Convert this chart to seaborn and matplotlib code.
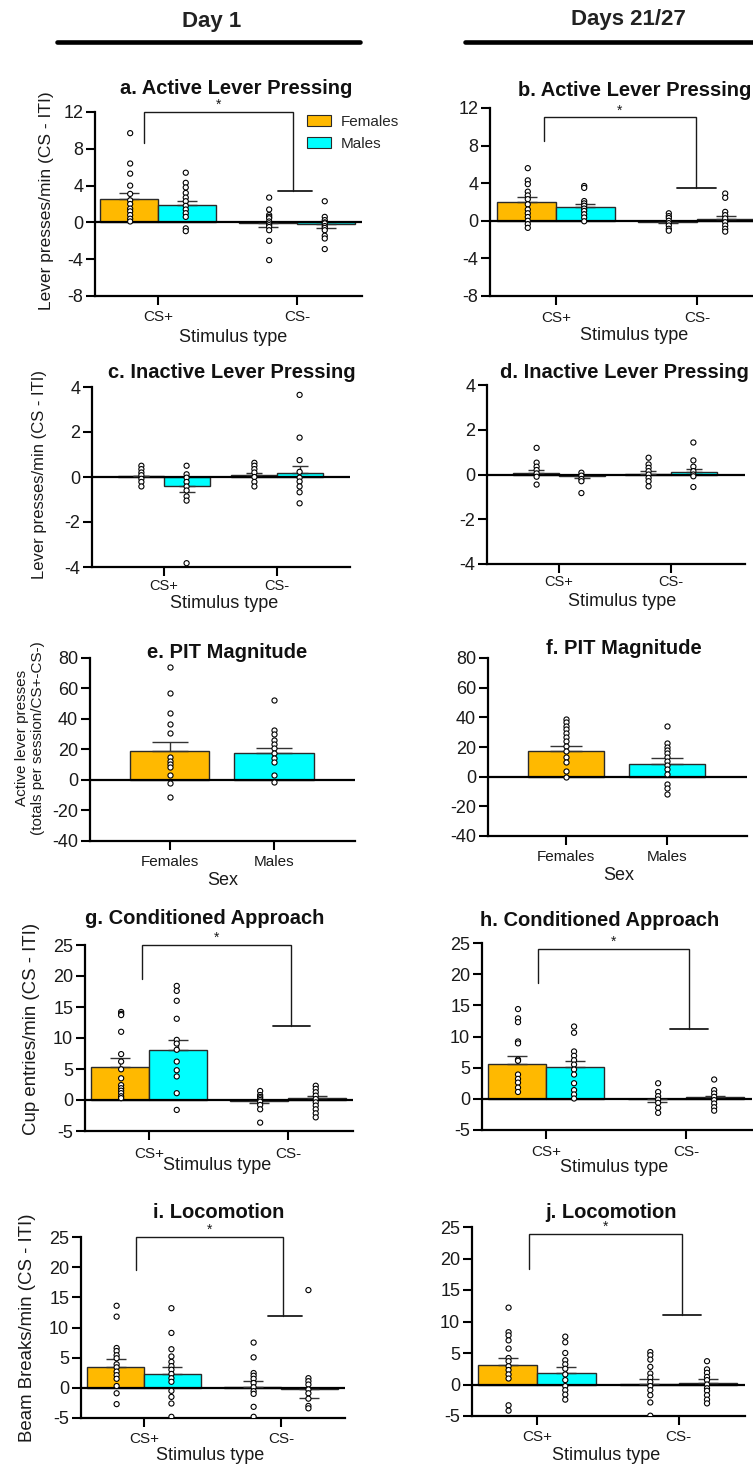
import matplotlib
matplotlib.use("Agg")
import matplotlib.pyplot as plt
import numpy as np
import pandas as pd
import seaborn as sns
from matplotlib.lines import Line2D
from matplotlib.patches import Patch

# ---------------- data ----------------
STIM = ["CS+", "CS-"]
SEX = ["Females", "Males"]

# a. Active lever pressing, Day 1
A_F_CSP = [9.7, 6.4, 5.3, 4.0, 3.1, 2.4, 2.0, 1.5, 1.2, 0.8, 0.4, 0.1]
A_M_CSP = [5.4, 4.3, 3.8, 3.2, 2.7, 2.3, 1.8, 1.4, 1.0, 0.6, -0.65, -0.95]
A_F_CSM = [2.7, 1.4, 0.8, 0.6, 0.45, 0.1, -0.1, -0.3, -0.5, -0.85, -2.0, -4.1]
A_M_CSM = [2.3, 0.6, 0.25, 0.0, -0.1, -0.4, -0.6, -0.85, -1.45, -1.75, -2.9]
A_MEAN_F = [2.5, -0.1]
A_MEAN_M = [1.9, -0.22]
A_SEM_F = [0.74, 0.37]
A_SEM_M = [0.46, 0.38]

# b. Active lever pressing, Days 21/27
B_F_CSP = [5.6, 4.3, 3.9, 3.1, 2.7, 2.3, 1.75, 1.2, 0.8, 0.4, 0.0, -0.35, -0.75]
B_M_CSP = [3.7, 3.5, 2.1, 1.85, 1.6, 1.3, 1.05, 0.7, 0.35, -0.05]
B_F_CSM = [0.8, 0.5, 0.3, 0.0, -0.25, -0.5, -0.85, -1.05]
B_M_CSM = [2.9, 2.45, 0.95, 0.6, 0.25, -0.15, -0.5, -0.85, -1.15]
B_MEAN_F = [1.98, -0.08]
B_MEAN_M = [1.46, 0.15]
B_SEM_F = [0.52, 0.12]
B_SEM_M = [0.34, 0.37]

# c. Inactive lever pressing, Day 1
C_F_CSP = [0.5, 0.35, 0.2, 0.08, -0.08, -0.22, -0.42]
C_M_CSP = [0.5, 0.12, -0.03, -0.22, -0.42, -0.6, -0.86, -1.05, -3.83]
C_F_CSM = [0.63, 0.5, 0.35, 0.2, 0.0, -0.22, -0.42]
C_M_CSM = [3.65, 1.75, 0.75, 0.23, -0.03, -0.2, -0.42, -0.68, -1.17]
C_MEAN_F = [0.03, 0.08]
C_MEAN_M = [-0.42, 0.2]
C_SEM_F = [0.03, 0.1]
C_SEM_M = [0.26, 0.31]

# d. Inactive lever pressing, Days 21/27
D_F_CSP = [1.19, 0.53, 0.35, 0.2, 0.05, -0.1, -0.45]
D_M_CSP = [0.08, -0.05, -0.2, -0.3, -0.83]
D_F_CSM = [0.75, 0.45, 0.3, 0.15, 0.0, -0.15, -0.3, -0.53]
D_M_CSM = [1.43, 0.63, 0.35, 0.15, 0.0, -0.08, -0.56]
D_MEAN_F = [0.08, 0.04]
D_MEAN_M = [-0.08, 0.09]
D_SEM_F = [0.12, 0.11]
D_SEM_M = [0.07, 0.14]

# e. PIT magnitude, Day 1
E_F = [74, 57, 44, 37, 31, 14.8, 12.6, 10.4, 8.7, 3.3, -1.7, -10.9]
E_M = [52.2, 32.6, 30.4, 26.5, 23.3, 20.7, 17.8, 14.1, 12.0, 3.3, -1.1]
E_MEAN = [19.1, 17.4]
E_SEM = [6.1, 3.7]

# f. PIT magnitude, Days 21/27
F_F = [38.7, 36.6, 34.4, 32.1, 29.2, 26.5, 24.3, 20.9, 17.1, 13.0, 9.7, 4.0, -0.4]
F_M = [34.2, 22.5, 20.2, 18.0, 15.7, 13.0, 10.8, 8.1, 5.2, 1.8, -4.9, -7.6, -11.7]
F_MEAN = [17.5, 8.5]
F_SEM = [3.4, 4.1]

# g. Conditioned approach, Day 1
G_F_CSP = [14.2, 13.9, 13.7, 11.0, 7.4, 6.2, 4.95, 3.5, 2.4, 1.9, 1.5, 1.1, 0.6, 0.3]
G_M_CSP = [18.4, 17.6, 16.0, 13.1, 9.7, 9.1, 8.1, 6.2, 4.8, 3.8, 1.1, -1.6]
G_F_CSM = [1.45, 0.8, 0.5, 0.27, 0.0, -0.27, -0.8, -1.5, -3.65]
G_M_CSM = [2.3, 1.8, 1.25, 0.7, 0.16, -0.38, -0.9, -1.5, -2.15, -2.8]
G_MEAN_F = [5.4, -0.15]
G_MEAN_M = [8.06, 0.27]
G_SEM_F = [1.3, 0.28]
G_SEM_M = [1.54, 0.43]

# h. Conditioned approach, Days 21/27
H_F_CSP = [14.4, 12.9, 12.3, 9.2, 8.9, 6.3, 6.1, 3.9, 3.2, 2.6, 1.8, 1.1]
H_M_CSP = [11.6, 10.6, 7.6, 6.9, 6.2, 5.5, 4.7, 3.9, 2.5, 1.4, 0.7, 0.05]
H_F_CSM = [2.5, 1.1, 0.43, -0.1, -0.65, -1.45, -2.25]
H_M_CSM = [3.1, 1.4, 0.86, 0.32, -0.2, -0.75, -1.35, -1.9]
H_MEAN_F = [5.65, -0.1]
H_MEAN_M = [5.16, 0.27]
H_SEM_F = [1.25, 0.38]
H_SEM_M = [0.94, 0.16]

# i. Locomotion, Day 1
I_F_CSP = [13.6, 11.8, 6.6, 6.1, 5.4, 4.9, 3.9, 3.4, 2.7, 2.1, 1.5, 0.3, -0.9, -2.7]
I_M_CSP = [13.2, 9.1, 6.4, 5.2, 4.3, 3.6, 3.0, 2.3, 1.6, 1.0, -0.5, -1.5, -2.6, -4.8]
I_F_CSM = [7.5, 5.05, 2.45, 2.0, 1.5, 0.8, 0.1, -0.55, -1.0, -3.15, -4.8]
I_M_CSM = [16.2, 1.6, 1.1, 0.55, -0.27, -0.9, -1.8, -3.0, -3.4]
I_MEAN_F = [3.4, 0.1]
I_MEAN_M = [2.34, -0.2]
I_SEM_F = [1.4, 1.0]
I_SEM_M = [1.16, 1.55]

# j. Locomotion, Days 21/27
J_F_CSP = [12.2, 8.3, 7.8, 7.0, 5.7, 4.2, 3.7, 2.9, 2.3, 1.6, 0.95, -3.3, -4.15]
J_M_CSP = [7.6, 6.7, 5.0, 3.85, 3.2, 2.5, 1.6, 0.7, -0.25, -0.9, -1.6, -2.4]
J_F_CSM = [5.15, 4.65, 3.95, 2.8, 1.75, 1.1, 0.4, -0.25, -0.9, -1.7, -2.85, -4.95]
J_M_CSM = [3.7, 2.4, 1.85, 1.2, 0.7, 0.0, -0.6, -1.0, -1.7, -2.4, -3.0]
J_MEAN_F = [3.05, 0.15]
J_MEAN_M = [1.9, 0.3]
J_SEM_F = [1.15, 0.7]
J_SEM_M = [0.8, 0.5]

LEVER_TICKS = [-8, -4, 0, 4, 8, 12]
INACTIVE_TICKS = [-4, -2, 0, 2, 4]
PIT_TICKS = [-40, -20, 0, 20, 40, 60, 80]
RATE_TICKS = [-5, 0, 5, 10, 15, 20, 25]

# ---------------- style ----------------
ORANGE = "#FFB900"
CYAN = "#00FFFF"
EDGE = "#2a2a2a"
PAL = {"Females": ORANGE, "Males": CYAN}
WHITE = {"Females": "white", "Males": "white"}

sns.set_theme(style="ticks")
plt.rcParams["font.family"] = ["Liberation Sans", "DejaVu Sans"]
plt.rcParams["axes.linewidth"] = 1.5

W, H, DPI = 753, 1465, 100
fig = plt.figure(figsize=(W / DPI, H / DPI), dpi=DPI)
fig.patch.set_facecolor("white")

TICK_LEN = 6.5
TICK_PX = TICK_LEN * DPI / 72


def fx(x):
    return x / W


def fy(y):
    return 1 - y / H


def make_axes(box):
    l, t, r, b = box
    return fig.add_axes([fx(l), fy(b), (r - l) / W, (b - t) / H])


def style_axes(ax, box, xlim, ylim, yticks, title, ylab, xlab, xtick_cy, xtick_fs):
    l, t, r, b = box
    ax.set_xlim(*xlim)
    ax.set_ylim(*ylim)
    ax.set_yticks(yticks)
    ax.set_yticklabels([str(v) for v in yticks])
    for s in ["top", "right"]:
        ax.spines[s].set_visible(False)
    for s in ["left", "bottom"]:
        ax.spines[s].set_linewidth(1.6)
        ax.spines[s].set_color("black")
    fs_px = xtick_fs * DPI / 72
    pad_px = max(0.0, xtick_cy - b - TICK_PX - 0.55 * fs_px)
    ax.tick_params(axis="both", direction="out", length=TICK_LEN, width=1.5, color="black")
    ax.tick_params(axis="y", labelsize=13, pad=2, labelcolor="#1a1a1a")
    ax.tick_params(axis="x", labelsize=xtick_fs, pad=pad_px * 72 / DPI, labelcolor="#1a1a1a")
    ax.axhline(0, color="black", lw=1.6, zorder=2.5)
    # title
    ttext, tx, ty = title
    fig.text(fx(tx), fy(ty), ttext, ha="center", va="center", fontsize=14.5,
             fontweight="bold", color="#111111")
    # axis labels
    if ylab is not None:
        ytext, yx, yy, yfs = ylab
        ax.set_ylabel(ytext, fontsize=yfs, va="center", ha="center", color="#1a1a1a",
                      linespacing=1.1)
        ax.yaxis.set_label_coords(fx(yx), fy(yy), transform=fig.transFigure)
    else:
        ax.set_ylabel("")
    xtext, xx, xy = xlab
    ax.set_xlabel(xtext, fontsize=13, va="center", ha="center", color="#1a1a1a")
    ax.xaxis.set_label_coords(fx(xx), fy(xy), transform=fig.transFigure)


def draw_bracket(ax, spec):
    x1, x2, ytop, yl, yr, h1, h2 = spec
    ax.plot([x1, x1, x2, x2], [yl, ytop, ytop, yr], color="#1a1a1a", lw=1.0,
            clip_on=False, zorder=5, solid_joinstyle="miter")
    ax.plot([h1, h2], [yr, yr], color="#1a1a1a", lw=1.3, clip_on=False, zorder=5)
    ax.text((x1 + x2) / 2, ytop, "*", ha="center", va="bottom", fontsize=10,
            color="#1a1a1a", clip_on=False)


def grouped_panel(ax, f_pts, m_pts, f_mean, m_mean, f_sem, m_sem, width=0.83, capsize=7):
    rows = []
    for stim, pts in zip(STIM, f_pts):
        rows += [(stim, "Females", v) for v in pts]
    for stim, pts in zip(STIM, m_pts):
        rows += [(stim, "Males", v) for v in pts]
    pts_df = pd.DataFrame(rows, columns=["stim", "sex", "value"])
    mean_df = pd.DataFrame({"stim": STIM + STIM,
                            "sex": ["Females"] * 2 + ["Males"] * 2,
                            "mean": f_mean + m_mean,
                            "sem": f_sem + m_sem})
    sns.barplot(data=mean_df, x="stim", y="mean", hue="sex", order=STIM, hue_order=SEX,
                palette=PAL, saturation=1, width=width, errorbar=None, edgecolor=EDGE,
                linewidth=1.0, legend=False, ax=ax, zorder=2)
    for j, sex in enumerate(SEX):
        sub = mean_df[mean_df["sex"] == sex]
        off = (-1 if j == 0 else 1) * width / 4
        for i, (mu, se) in enumerate(zip(sub["mean"], sub["sem"])):
            yerr = [[0], [se]] if mu >= 0 else [[se], [0]]
            ax.errorbar([i + off], [mu], yerr=yerr, fmt="none", ecolor="#333333",
                        elinewidth=1.0, capsize=capsize, capthick=1.0, zorder=3)
    sns.stripplot(data=pts_df, x="stim", y="value", hue="sex", order=STIM, hue_order=SEX,
                  palette=WHITE, dodge=True, jitter=False, size=3.7, edgecolor="black",
                  linewidth=0.8, legend=False, ax=ax, zorder=4)


def sex_panel(ax, f_pts, m_pts, means, sems, width=0.76, capsize=12):
    pts_df = pd.DataFrame({"sex": ["Females"] * len(f_pts) + ["Males"] * len(m_pts),
                           "value": f_pts + m_pts})
    mean_df = pd.DataFrame({"sex": SEX, "mean": means, "sem": sems})
    sns.barplot(data=mean_df, x="sex", y="mean", hue="sex", order=SEX, hue_order=SEX,
                palette=PAL, saturation=1, width=width, errorbar=None, edgecolor=EDGE,
                linewidth=1.0, legend=False, ax=ax, zorder=2)
    for i, (mu, se) in enumerate(zip(mean_df["mean"], mean_df["sem"])):
        yerr = [[0], [se]] if mu >= 0 else [[se], [0]]
        ax.errorbar([i], [mu], yerr=yerr, fmt="none", ecolor="#333333",
                    elinewidth=1.0, capsize=capsize, capthick=1.0, zorder=3)
    sns.stripplot(data=pts_df, x="sex", y="value", order=SEX, color="white",
                  jitter=False, size=3.7, edgecolor="black", linewidth=0.8,
                  ax=ax, zorder=4)


LEVER_LABEL = "Lever presses/min (CS - ITI)"

# ---- a ----
box = (95, 112, 362, 296)
ax = make_axes(box)
grouped_panel(ax, [A_F_CSP, A_F_CSM], [A_M_CSP, A_M_CSM], A_MEAN_F, A_MEAN_M, A_SEM_F, A_SEM_M)
style_axes(ax, box, (-0.453, 1.468), (-8, 12), LEVER_TICKS, ("a. Active Lever Pressing", 236, 88),
           (LEVER_LABEL, 47, 201, 12.5), ("Stimulus type", 233, 337), 318, 11)
draw_bracket(ax, (-0.10, 0.973, 12, 8.6, 3.4, 0.866, 1.106))
ax.legend(handles=[Patch(facecolor=ORANGE, edgecolor=EDGE, lw=0.8, label="Females"),
                   Patch(facecolor=CYAN, edgecolor=EDGE, lw=0.8, label="Males")],
          loc="upper left", bbox_to_anchor=(fx(307), fy(115)), bbox_transform=fig.transFigure,
          frameon=False, fontsize=11, handlelength=1.6, handleheight=0.7, handletextpad=0.6,
          labelspacing=0.5, borderpad=0, borderaxespad=0)

# ---- b ----
box = (490, 108, 763, 296)
ax = make_axes(box)
grouped_panel(ax, [B_F_CSP, B_F_CSM], [B_M_CSP, B_M_CSM], B_MEAN_F, B_MEAN_M, B_SEM_F, B_SEM_M)
style_axes(ax, box, (-0.468, 1.468), (-8, 12), LEVER_TICKS, ("b. Active Lever Pressing", 635, 90),
           None, ("Stimulus type", 634, 335), 319, 11)
draw_bracket(ax, (-0.085, 0.993, 11.0, 8.5, 3.5, 0.858, 1.135))

# ---- c ----
box = (92, 387, 350, 567)
ax = make_axes(box)
grouped_panel(ax, [C_F_CSP, C_F_CSM], [C_M_CSP, C_M_CSM], C_MEAN_F, C_MEAN_M, C_SEM_F, C_SEM_M,
              width=0.82, capsize=6)
style_axes(ax, box, (-0.637, 1.646), (-4, 4), INACTIVE_TICKS, ("c. Inactive Lever Pressing", 232, 373),
           (LEVER_LABEL, 40, 475, 12), ("Stimulus type", 224, 603), 587, 10.5)

# ---- d ----
box = (487, 385, 745, 564)
ax = make_axes(box)
grouped_panel(ax, [D_F_CSP, D_F_CSM], [D_M_CSP, D_M_CSM], D_MEAN_F, D_MEAN_M, D_SEM_F, D_SEM_M,
              width=0.82, capsize=6)
style_axes(ax, box, (-0.643, 1.661), (-4, 4), INACTIVE_TICKS, ("d. Inactive Lever Pressing", 624, 373),
           None, ("Stimulus type", 622, 602), 583, 10.5)

# ---- e ----
box = (90, 658, 355, 841)
ax = make_axes(box)
sex_panel(ax, E_F, E_M, E_MEAN, E_SEM, width=0.76, capsize=13)
style_axes(ax, box, (-0.769, 1.779), (-40, 80), PIT_TICKS, ("e. PIT Magnitude", 227, 652),
           ("Active lever presses\n(totals per session/CS+-CS-)", 30, 738, 11),
           ("Sex", 223, 880), 863, 11)

# ---- f ----
box = (488, 658, 747, 836)
ax = make_axes(box)
sex_panel(ax, F_F, F_M, F_MEAN, F_SEM, width=0.75, capsize=11.5)
style_axes(ax, box, (-0.772, 1.792), (-40, 80), PIT_TICKS, ("f. PIT Magnitude", 624, 648),
           None, ("Sex", 619, 875), 858, 11)

# ---- g ----
box = (85, 945, 353, 1131)
ax = make_axes(box)
grouped_panel(ax, [G_F_CSP, G_F_CSM], [G_M_CSP, G_M_CSM], G_MEAN_F, G_MEAN_M, G_SEM_F, G_SEM_M)
style_axes(ax, box, (-0.46, 1.468), (-5, 25), RATE_TICKS, ("g. Conditioned Approach", 205, 918),
           ("Cup entries/min (CS - ITI)", 32, 1029, 13.4), ("Stimulus type", 217, 1166), 1155, 11)
draw_bracket(ax, (-0.05, 1.02, 25, 19.5, 12, 0.892, 1.158))

# ---- h ----
box = (482, 943, 752, 1130)
ax = make_axes(box)
grouped_panel(ax, [H_F_CSP, H_F_CSM], [H_M_CSP, H_M_CSM], H_MEAN_F, H_MEAN_M, H_SEM_F, H_SEM_M)
style_axes(ax, box, (-0.457, 1.47), (-5, 25), RATE_TICKS, ("h. Conditioned Approach", 600, 920),
           None, ("Stimulus type", 614, 1168), 1153, 11)
draw_bracket(ax, (-0.057, 1.021, 24, 18.6, 11.2, 0.886, 1.157))

# ---- i ----
box = (81, 1237, 345, 1418)
ax = make_axes(box)
grouped_panel(ax, [I_F_CSP, I_F_CSM], [I_M_CSP, I_M_CSM], I_MEAN_F, I_MEAN_M, I_SEM_F, I_SEM_M)
style_axes(ax, box, (-0.46, 1.467), (-5, 25), RATE_TICKS, ("i. Locomotion", 219, 1212),
           ("Beam Breaks/min (CS - ITI)", 28, 1328, 13.4), ("Stimulus type", 210, 1456), 1440, 11)
draw_bracket(ax, (-0.058, 1.015, 25, 19.5, 11.9, 0.905, 1.153))

# ---- j ----
box = (472, 1227, 745, 1416)
ax = make_axes(box)
grouped_panel(ax, [J_F_CSP, J_F_CSM], [J_M_CSP, J_M_CSM], J_MEAN_F, J_MEAN_M, J_SEM_F, J_SEM_M)
style_axes(ax, box, (-0.458, 1.468), (-5, 25), RATE_TICKS, ("j. Locomotion", 611, 1212),
           None, ("Stimulus type", 606, 1455), 1438, 11)
draw_bracket(ax, (-0.056, 1.021, 23.9, 18.3, 11.0, 0.887, 1.155))

# ---- column headers ----
fig.text(fx(212), fy(21), "Day 1", ha="center", va="center", fontsize=16,
         fontweight="bold", color="#222222")
fig.text(fx(628), fy(19), "Days 21/27", ha="center", va="center", fontsize=16,
         fontweight="bold", color="#222222")
fig.add_artist(Line2D([fx(57), fx(360)], [fy(42), fy(42)], lw=3.3, color="black",
                      solid_capstyle="round"))
fig.add_artist(Line2D([fx(465), fx(770)], [fy(42), fy(42)], lw=3.3, color="black",
                      solid_capstyle="round"))

fig.savefig("out.png", dpi=DPI, facecolor="white")
